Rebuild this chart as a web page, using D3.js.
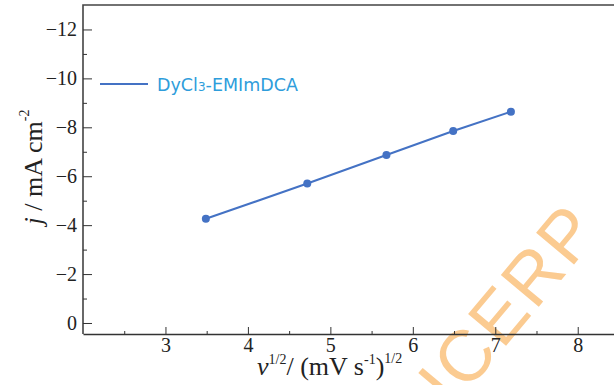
<!DOCTYPE html>
<html>
<head>
<meta charset="utf-8">
<script src="https://cdn.jsdelivr.net/npm/d3@7"></script>
<style>
  body { margin: 0; background: #fff; }
  .tick text { font-family: "Liberation Serif", "Times New Roman", serif; font-size: 20px; fill: #222; }
  .axis path, .axis line { stroke: #333; }
</style>
</head>
<body>
<script>
// data
var sqrtRate = [3.49, 4.72, 5.68, 6.49, 7.19];   // v^1/2 (mV s-1)^1/2
var current  = [-4.26, -5.70, -6.87, -7.85, -8.64]; // j / mA cm-2
var seriesName = "DyCl3-EMImDCA";
var xTicks = [3, 4, 5, 6, 7, 8];
var xMinor = [2.5, 3.5, 4.5, 5.5, 6.5, 7.5];
var yTicks = [0, -2, -4, -6, -8, -10, -12];
var yMinor = [-1, -3, -5, -7, -9, -11];

var W = 614, H = 385;
var mLeft = 83, mTop = 5, mBottom = 334;
var lineColor = "#4472c4";
var fmt = d3.format("d");

var svg = d3.select("body").append("svg")
  .attr("width", W)
  .attr("height", H);

var x = d3.scaleLinear().domain([2, 8.44]).range([mLeft, W]);
var y = d3.scaleLinear().domain([0.45, -13]).range([mBottom, mTop]);

// watermark
svg.append("text")
  .attr("transform", "translate(452,410) rotate(-50)")
  .attr("font-family", "Liberation Sans, Arial, sans-serif")
  .attr("font-size", 72)
  .attr("letter-spacing", 3)
  .attr("fill", "#fbc27e")
  .attr("opacity", 0.85)
  .text("ICERP");

// frame: top and left lines
svg.append("path")
  .attr("d", "M" + mLeft + "," + mBottom + "V" + mTop + "H" + W)
  .attr("fill", "none")
  .attr("stroke", "#444")
  .attr("stroke-width", 1.6);

/* ---------- axes ---------- */
var xAxis = svg.append("g")
  .attr("class", "axis")
  .attr("transform", "translate(0," + mBottom + ")")
  .call(d3.axisBottom(x).tickValues(xTicks).tickFormat(fmt).tickSize(-7).tickSizeOuter(0).tickPadding(4));
xAxis.select(".domain").attr("stroke-width", 1.6);

svg.append("g")
  .attr("class", "axis")
  .attr("transform", "translate(0," + mBottom + ")")
  .call(d3.axisBottom(x).tickValues(xMinor).tickSize(-3).tickFormat(""))
  .select(".domain").remove();

var yAxis = svg.append("g")
  .attr("class", "axis")
  .attr("transform", "translate(" + mLeft + ",0)")
  .call(d3.axisLeft(y).tickValues(yTicks).tickFormat(fmt).tickSize(-9).tickSizeOuter(0).tickPadding(6));
yAxis.select(".domain").remove();

svg.append("g")
  .attr("class", "axis")
  .attr("transform", "translate(" + mLeft + ",0)")
  .call(d3.axisLeft(y).tickValues(yMinor).tickSize(-4).tickFormat(""))
  .select(".domain").remove();

/* ---------- axis titles ---------- */
var xt = svg.append("text")
  .attr("x", 257)
  .attr("y", 375)
  .attr("font-family", "Liberation Serif, Times New Roman, serif")
  .attr("font-size", 26)
  .attr("fill", "#222");
xt.append("tspan").attr("font-style", "italic").text("ν");
xt.append("tspan").attr("font-size", 14).attr("dy", -11).text("1/2");
xt.append("tspan").attr("dy", 11).text("/ (mV s");
xt.append("tspan").attr("font-size", 14).attr("dy", -11).text("-1");
xt.append("tspan").attr("dy", 11).text(")");
xt.append("tspan").attr("font-size", 14).attr("dy", -12).text("1/2");

var yt = svg.append("text")
  .attr("transform", "translate(42,167) rotate(-90)")
  .attr("text-anchor", "middle")
  .attr("font-family", "Liberation Serif, Times New Roman, serif")
  .attr("font-size", 26)
  .attr("fill", "#222");
yt.append("tspan").attr("font-style", "italic").text("j");
yt.append("tspan").text(" / mA cm");
yt.append("tspan").attr("font-size", 14).attr("dy", -13).text("-2");

/* ---------- series ---------- */
var pts = sqrtRate.map(function(v, i) { return { x: v, y: current[i] }; });

svg.append("path")
  .datum(pts)
  .attr("fill", "none")
  .attr("stroke", lineColor)
  .attr("stroke-width", 2)
  .attr("d", d3.line().x(d => x(d.x)).y(d => y(d.y)));

svg.selectAll(".dot")
  .data(pts).enter()
  .append("circle")
  .attr("class", "dot")
  .attr("cx", d => x(d.x))
  .attr("cy", d => y(d.y))
  .attr("r", 4)
  .attr("fill", lineColor);

/* ---------- legend ---------- */
var lg = svg.append("g").attr("transform", "translate(100,84)");
lg.append("line")
  .attr("x1", 0).attr("x2", 48)
  .attr("stroke", lineColor)
  .attr("stroke-width", 2);
var lt = lg.append("text")
  .attr("x", 57)
  .attr("y", 7)
  .attr("font-family", "DejaVu Sans, Verdana, sans-serif")
  .attr("font-size", 17.5)
  .attr("fill", "#2e9ddb");
lt.append("tspan").text(seriesName.slice(0, 4));
lt.append("tspan").attr("font-size", 12).text(seriesName.slice(4, 5));
lt.append("tspan").text(seriesName.slice(5));
</script>
</body>
</html>
